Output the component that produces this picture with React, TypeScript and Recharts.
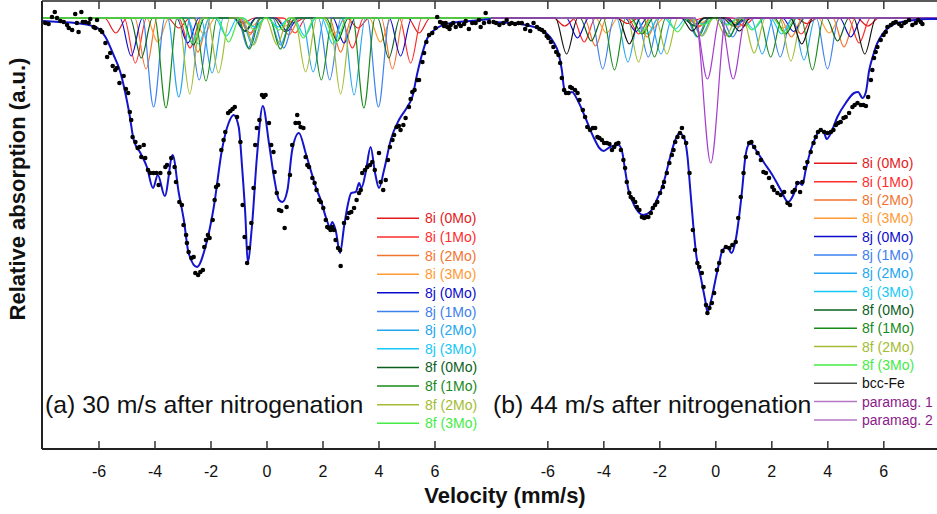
import { ComposedChart, Line, Scatter, XAxis, YAxis } from 'recharts';

const TICKS = [-6, -4, -2, 0, 2, 4, 6];

const SITE_NAMES = [
  '8i (0Mo)', '8i (1Mo)', '8i (2Mo)', '8i (3Mo)',
  '8j (0Mo)', '8j (1Mo)', '8j (2Mo)', '8j (3Mo)',
  '8f (0Mo)', '8f (1Mo)', '8f (2Mo)', '8f (3Mo)',
];
const EXTRA_NAMES = ['bcc-Fe', 'paramag. 1', 'paramag. 2'];

// line positions (mm/s) of each subspectrum, panel (a)
const L_POS = [
  [-5.4, -3.15, -0.85, 0.95, 3.25, 5.43],
  [-4.7, -2.75, -0.6, 1.0, 3.05, 5.13],
  [-4.32, -2.47, -0.62, 0.78, 2.63, 4.48],
  [-3.9, -2.25, -0.55, 0.65, 2.4, 4.05],
  [-4.85, -2.83, -0.8, 0.72, 2.75, 4.77],
  [-4.05, -2.42, -0.67, 0.6, 2.24, 3.98],
  [-3.15, -1.96, -0.52, 0.48, 1.65, 3.11],
  [-2.45, -1.45, -0.45, 0.4, 1.35, 2.35],
  [-4.49, -2.63, -0.77, 0.63, 2.51, 4.35],
  [-3.61, -2.18, -0.63, 0.48, 1.94, 3.46],
  [-2.76, -1.73, -0.48, 0.36, 1.38, 2.63],
  [-2.67, -1.37, -0.45, 0.42, 1.3, 2.45],
];
// line depths (a.u.), panel (a)
const L_DEPTH = [
  [1.5, 1.0, 0.5, 0.5, 1.0, 1.5],
  [4.5, 3.0, 1.5, 1.5, 3.0, 4.5],
  [5.1, 3.4, 1.7, 1.7, 3.4, 5.1],
  [2.4, 1.6, 0.8, 0.8, 1.6, 2.4],
  [3.8, 2.5, 1.3, 1.3, 2.5, 3.8],
  [8.9, 6.2, 3.0, 3.0, 6.2, 8.9],
  [7.9, 5.5, 2.7, 2.7, 5.4, 7.7],
  [2.6, 1.8, 0.9, 0.9, 1.8, 2.6],
  [4.0, 2.7, 1.35, 1.35, 2.3, 4.0],
  [9.0, 6.3, 3.1, 3.1, 6.2, 9.0],
  [7.6, 5.5, 2.7, 2.7, 5.4, 7.6],
  [2.5, 2.4, 1.2, 1.2, 2.0, 2.5],
];

// panel (b): 12 sites + bcc-Fe + paramag. 1 (doublet) + paramag. 2 (singlet)
const R_POS = [
  [-5.4, -3.15, -0.85, 0.95, 3.25, 5.43],
  [-4.7, -2.75, -0.6, 1.0, 3.05, 5.12],
  [-4.3, -2.45, -0.62, 0.8, 2.7, 4.58],
  [-3.9, -2.25, -0.55, 0.65, 2.4, 4.05],
  [-4.94, -2.85, -0.8, 0.72, 2.78, 4.82],
  [-4.04, -2.41, -0.67, 0.6, 2.3, 3.99],
  [-3.14, -1.96, -0.52, 0.48, 1.66, 3.15],
  [-2.45, -1.45, -0.45, 0.4, 1.35, 2.35],
  [-4.45, -2.63, -0.77, 0.63, 2.49, 4.35],
  [-3.62, -2.19, -0.63, 0.48, 1.96, 3.45],
  [-2.76, -1.75, -0.48, 0.36, 1.37, 2.68],
  [-2.67, -1.37, -0.45, 0.42, 1.3, 2.45],
  [-5.33, -3.09, -0.84, 0.84, 3.07, 5.32],
  [-0.3, 0.62],
  [-0.18],
];
const R_DEPTH = [
  [0.8, 0.55, 0.3, 0.3, 0.55, 0.8],
  [2.4, 1.6, 0.8, 0.8, 1.6, 2.5],
  [2.8, 1.9, 0.9, 0.9, 1.9, 2.9],
  [1.5, 1.0, 0.5, 0.5, 1.0, 1.5],
  [2.0, 1.35, 0.7, 0.7, 1.35, 1.9],
  [5.1, 3.9, 1.9, 1.9, 3.9, 5.1],
  [4.4, 3.6, 1.8, 1.8, 3.6, 4.2],
  [1.6, 1.1, 0.6, 0.6, 1.1, 1.6],
  [2.3, 1.6, 0.8, 0.8, 1.6, 2.3],
  [5.2, 3.9, 1.9, 1.9, 3.9, 5.2],
  [4.4, 3.6, 1.8, 1.8, 3.5, 4.3],
  [1.5, 1.4, 0.7, 0.7, 1.2, 1.5],
  [3.6, 2.6, 1.3, 1.3, 2.6, 3.6],
  [6.1, 6.1],
  [14.5],
];
// half width of the lines (mm/s)
const L_WIDTH = [0.4, 0.4, 0.4, 0.4, 0.4, 0.4, 0.4, 0.4, 0.4, 0.4, 0.4, 0.4];
const R_WIDTH = [0.4, 0.4, 0.4, 0.4, 0.4, 0.4, 0.4, 0.4, 0.4, 0.4, 0.4, 0.4, 0.4, 0.45, 0.55];

// total fit, panel (a)
const L_FIT = [
  [-8.0, 0.3], [-7.4, 0.4], [-6.85, 0.5], [-6.13, 0.9], [-5.77, 1.9], [-5.48, 3.7], [-5.24, 5.4],
  [-5.06, 7.5], [-4.92, 9.5], [-4.76, 12.2], [-4.52, 13.5], [-4.29, 14.9], [-4.07, 17.0],
  [-3.9, 15.7], [-3.65, 17.8], [-3.37, 13.7], [-3.15, 17.5], [-2.97, 20.2], [-2.8, 23.5],
  [-2.5, 24.9], [-2.2, 22.9], [-1.9, 18.9], [-1.61, 13.2], [-1.37, 10.5], [-1.19, 9.7],
  [-1.01, 10.9], [-0.89, 14.9], [-0.77, 19.9], [-0.69, 24.4], [-0.54, 20.9], [-0.36, 13.9],
  [-0.15, 8.8], [0.07, 12.5], [0.25, 15.9], [0.43, 18.2], [0.55, 18.4], [0.73, 17.2],
  [0.9, 13.2], [1.14, 11.5], [1.38, 13.5], [1.56, 15.2], [1.74, 16.9], [1.92, 18.2],
  [2.1, 19.9], [2.25, 20.9], [2.33, 20.4], [2.45, 21.2], [2.61, 23.5], [2.75, 20.9],
  [2.87, 18.9], [3.01, 17.5], [3.17, 17.4], [3.29, 16.5], [3.37, 17.0], [3.52, 15.5],
  [3.7, 12.9], [3.86, 15.5], [4.0, 17.0], [4.18, 15.2], [4.42, 12.2], [4.71, 10.2],
  [5.01, 8.9], [5.19, 7.9], [5.37, 5.5], [5.55, 3.5], [5.73, 2.0], [6.08, 1.0],
  [6.56, 0.5], [7.27, 0.3], [7.99, 0.1],
];

// measured points, panel (a)
const L_DOTS = [
  [-7.92, 0.5], [-7.8, 0.6], [-7.68, -0.1], [-7.58, -0.6], [-7.5, 0.0], [-7.38, 0.3], [-7.26, 0.4],
  [-7.14, 0.7], [-7.08, 1.0], [-6.96, 1.2], [-6.85, -0.4], [-6.79, 0.5], [-6.73, 1.4], [-6.63, -0.6],
  [-6.58, 0.4], [-6.49, 0.4], [-6.37, 0.5], [-6.31, 0.1], [-6.19, 0.9], [-6.13, 1.0], [-6.07, 0.2],
  [-5.95, 1.2], [-5.89, 1.4], [-5.77, 2.5], [-5.71, 3.9], [-5.6, 3.5], [-5.51, 4.8], [-5.42, 5.2],
  [-5.36, 5.0], [-5.27, 6.5], [-5.12, 5.8], [-5.04, 7.1], [-4.96, 7.5], [-4.9, 9.4], [-4.85, 10.2],
  [-4.8, 11.9], [-4.7, 12.4], [-4.62, 13.0], [-4.55, 12.9], [-4.49, 13.9], [-4.4, 12.7], [-4.35, 14.0],
  [-4.25, 15.2], [-4.17, 15.5], [-4.05, 15.5], [-3.95, 15.5], [-3.87, 16.7], [-3.81, 15.5],
  [-3.63, 14.9], [-3.57, 14.7], [-3.49, 15.5], [-3.42, 14.0], [-3.3, 14.9], [-3.25, 16.4],
  [-3.13, 18.4], [-3.04, 18.7], [-2.98, 20.7], [-2.89, 21.7], [-2.86, 22.5], [-2.8, 23.4],
  [-2.7, 24.0], [-2.62, 23.9], [-2.56, 25.5], [-2.46, 25.7], [-2.38, 25.4], [-2.29, 25.2],
  [-2.24, 22.9], [-2.18, 22.2], [-2.11, 21.7], [-2.05, 22.0], [-1.94, 20.2], [-1.87, 18.2],
  [-1.82, 16.9], [-1.75, 16.7], [-1.63, 13.2], [-1.55, 12.2], [-1.49, 11.4], [-1.39, 9.5],
  [-1.31, 9.3], [-1.23, 9.1], [-1.15, 8.9], [-1.07, 9.9], [-0.95, 12.4], [-0.87, 18.7],
  [-0.8, 21.9], [-0.71, 24.5], [-0.65, 23.0], [-0.56, 20.5], [-0.48, 17.0], [-0.42, 12.7],
  [-0.36, 11.0], [-0.27, 10.2], [-0.18, 7.7], [-0.12, 7.9], [-0.05, 7.7], [0.07, 10.5],
  [0.15, 12.7], [0.23, 13.4], [0.27, 15.4], [0.35, 17.5], [0.43, 19.2], [0.51, 19.3],
  [0.63, 21.0], [0.7, 18.9], [0.82, 15.7], [0.9, 12.7], [1.02, 10.5], [1.08, 9.7], [1.14, 10.5],
  [1.2, 10.9], [1.3, 11.0], [1.38, 13.9], [1.44, 14.7], [1.5, 14.9], [1.62, 16.0], [1.7, 16.5],
  [1.77, 17.2], [1.86, 18.2], [1.92, 18.4], [2.01, 19.0], [2.1, 20.2], [2.15, 20.9], [2.21, 21.0],
  [2.27, 21.2], [2.33, 20.9], [2.39, 21.2], [2.45, 22.2], [2.54, 23.0], [2.61, 23.2], [2.63, 24.8],
  [2.75, 20.5], [2.87, 20.0], [2.93, 19.5], [3.01, 19.4], [3.11, 19.0], [3.2, 18.2], [3.29, 17.5],
  [3.35, 17.2], [3.4, 15.5], [3.5, 15.2], [3.58, 14.9], [3.68, 14.7], [3.76, 14.4], [3.85, 15.2],
  [4.0, 13.5], [4.06, 16.4], [4.15, 17.2], [4.24, 16.2], [4.32, 14.2], [4.39, 12.9], [4.48, 12.2],
  [4.54, 11.7], [4.63, 10.9], [4.71, 10.8], [4.77, 11.2], [4.87, 10.7], [4.95, 10.0], [5.07, 8.9],
  [5.13, 8.1], [5.19, 7.4], [5.27, 7.2], [5.37, 6.2], [5.43, 6.2], [5.55, 4.4], [5.61, 3.5],
  [5.69, 2.4], [5.79, 1.7], [5.9, 1.5], [6.02, 1.0], [6.08, -0.1], [6.18, 0.4], [6.26, 0.5],
  [6.32, 0.8], [6.38, 0.5], [6.44, 0.9], [6.52, 1.1], [6.56, 0.7], [6.65, 0.5], [6.74, 0.9],
  [6.86, 0.6], [6.92, 0.8], [7.04, 0.6], [7.1, 0.3], [7.21, 1.1], [7.33, 0.5], [7.45, 0.5],
  [7.57, 0.2], [7.63, 0.9], [7.75, 0.5], [7.81, -0.5], [7.93, 0.4],
];

// total fit, panel (b)
const R_FIT = [
  [-8.0, 0.4], [-7.35, 0.5], [-6.63, 0.8], [-6.16, 1.3], [-5.8, 2.4], [-5.62, 3.5], [-5.5, 5.2],
  [-5.42, 7.0], [-5.3, 7.5], [-5.14, 7.4], [-4.94, 8.2], [-4.67, 9.9], [-4.37, 11.9], [-4.16, 13.0],
  [-4.01, 13.3], [-3.78, 12.9], [-3.48, 12.7], [-3.36, 13.2], [-3.24, 15.2], [-3.12, 17.2],
  [-3.0, 18.2], [-2.82, 19.2], [-2.59, 19.7], [-2.35, 19.4], [-2.11, 18.2], [-1.87, 16.5],
  [-1.63, 13.9], [-1.45, 12.2], [-1.3, 11.5], [-1.13, 12.0], [-1.01, 13.9], [-0.92, 16.9],
  [-0.8, 20.9], [-0.69, 23.9], [-0.54, 25.9], [-0.38, 28.2], [-0.3, 29.4], [-0.14, 27.9],
  [0.0, 26.0], [0.12, 24.5], [0.24, 23.2], [0.41, 22.9], [0.56, 23.5], [0.71, 22.2], [0.83, 19.9],
  [0.95, 16.9], [1.04, 14.2], [1.13, 12.9], [1.23, 12.5], [1.43, 13.2], [1.73, 14.5], [2.02, 15.7],
  [2.32, 17.2], [2.58, 18.4], [2.8, 17.5], [2.94, 16.4], [3.09, 16.7], [3.21, 15.2], [3.39, 13.2],
  [3.57, 11.9], [3.72, 11.2], [3.87, 11.5], [3.96, 12.1], [4.11, 11.5], [4.34, 9.9], [4.64, 8.5],
  [4.94, 7.5], [5.08, 7.4], [5.24, 8.0], [5.36, 7.4], [5.48, 5.2], [5.59, 4.0], [5.77, 2.5],
  [6.01, 1.4], [6.37, 0.6], [6.84, 0.3], [7.56, 0.1], [7.9, 0.1],
];

// measured points, panel (b)
const R_DOTS = [
  [-7.94, 0.4], [-7.85, 0.5], [-7.73, 0.7], [-7.59, 0.5], [-7.47, 0.2], [-7.37, 0.6], [-7.29, 0.5],
  [-7.17, 0.6], [-7.05, 0.5], [-6.93, 0.5], [-6.81, 1.1], [-6.73, 0.7], [-6.63, 1.3], [-6.51, 0.5],
  [-6.39, 0.9], [-6.3, 1.1], [-6.21, 1.2], [-6.13, 1.4], [-6.04, 1.8], [-5.98, 2.0], [-5.89, 2.4],
  [-5.8, 2.9], [-5.7, 3.4], [-5.62, 3.7], [-5.56, 4.5], [-5.5, 6.0], [-5.42, 7.2], [-5.35, 7.5],
  [-5.26, 7.5], [-5.2, 6.9], [-5.14, 7.0], [-5.03, 7.2], [-4.94, 7.5], [-4.87, 8.2], [-4.75, 9.2],
  [-4.67, 9.9], [-4.59, 10.9], [-4.49, 11.2], [-4.39, 11.0], [-4.31, 11.0], [-4.23, 11.9],
  [-4.16, 12.0], [-4.07, 12.2], [-3.99, 12.5], [-3.89, 12.5], [-3.8, 12.6], [-3.71, 13.2],
  [-3.63, 12.9], [-3.56, 12.6], [-3.48, 12.5], [-3.39, 13.2], [-3.3, 14.2], [-3.24, 15.0],
  [-3.18, 16.4], [-3.09, 17.5], [-3.04, 17.9], [-2.96, 18.1], [-2.88, 18.4], [-2.82, 18.9],
  [-2.73, 19.2], [-2.64, 19.9], [-2.56, 20.0], [-2.49, 19.9], [-2.41, 19.9], [-2.32, 19.5],
  [-2.25, 19.0], [-2.17, 18.7], [-2.09, 18.4], [-1.99, 17.5], [-1.89, 16.9], [-1.85, 16.4],
  [-1.75, 15.5], [-1.66, 14.5], [-1.57, 13.7], [-1.51, 13.2], [-1.45, 12.4], [-1.37, 11.9],
  [-1.28, 11.5], [-1.21, 11.0], [-1.16, 11.9], [-1.06, 12.5], [-0.94, 15.5], [-0.82, 21.2],
  [-0.74, 23.2], [-0.66, 24.5], [-0.59, 24.9], [-0.5, 25.5], [-0.44, 26.9], [-0.35, 28.7],
  [-0.3, 29.5], [-0.23, 29.0], [-0.14, 28.5], [-0.06, 27.5], [0.04, 25.2], [0.12, 24.5],
  [0.24, 23.3], [0.36, 22.9], [0.48, 23.0], [0.59, 22.7], [0.71, 22.4], [0.8, 20.0], [0.89, 17.9],
  [0.99, 15.5], [1.07, 13.9], [1.19, 12.5], [1.27, 12.4], [1.37, 12.9], [1.49, 13.5], [1.61, 14.2],
  [1.7, 15.4], [1.79, 15.5], [1.9, 16.0], [2.02, 16.9], [2.08, 17.2], [2.2, 17.5], [2.32, 17.7],
  [2.44, 17.4], [2.56, 18.5], [2.65, 18.7], [2.74, 17.4], [2.82, 17.2], [2.91, 16.5], [3.01, 17.4],
  [3.09, 16.4], [3.18, 15.0], [3.27, 14.4], [3.39, 13.4], [3.49, 12.5], [3.57, 11.9], [3.65, 11.4],
  [3.75, 11.2], [3.87, 11.4], [3.99, 11.5], [4.11, 11.4], [4.2, 11.2], [4.29, 10.7], [4.37, 10.5],
  [4.46, 10.4], [4.56, 10.0], [4.64, 9.9], [4.76, 9.5], [4.88, 8.9], [4.96, 8.7], [5.06, 8.5],
  [5.18, 8.7], [5.27, 8.7], [5.36, 8.8], [5.44, 7.9], [5.54, 6.2], [5.59, 5.2], [5.65, 4.0],
  [5.71, 3.4], [5.77, 2.9], [5.89, 2.2], [5.99, 1.7], [6.07, 1.4], [6.13, 0.9], [6.25, 0.7],
  [6.34, 0.5], [6.43, 0.4], [6.55, 0.6], [6.63, 0.8], [6.73, 0.5], [6.79, 0.4], [6.9, 0.2],
  [7.02, 0.7], [7.14, 0.5], [7.23, 0.2], [7.32, 0.4], [7.38, 0.6],
];

const SITE_COLORS = [
  '#e31a1c', '#ff2b2b', '#f2732e', '#ff9a33',
  '#0a0acc', '#3d80f0', '#22a6f0', '#14c8f8',
  '#0b5e1c', '#178a1a', '#a3bc32', '#45ec45',
];
const EXTRA_COLORS = ['#111111', '#a63ccc', '#a63ccc'];
const EXTRA_LEGEND_LINE = ['#444444', '#b477c4', '#b477c4'];
const EXTRA_LEGEND_TEXT = ['#111111', '#8b1a8b', '#8b1a8b'];

const FONT = '"Liberation Sans", Arial, Helvetica, sans-serif';
const Y_DOMAIN = [-1.7, 43.1];

type Pt = { v: number; a: number };

const toPts = (rows: number[][]): Pt[] => rows.map(([v, a]) => ({ v, a }));

// baseline between the lines, minimum at each line position
function subspectrum(pos: number[], dep: number[], w: number, lo: number, hi: number): Pt[] {
  const pts: Pt[] = [{ v: lo, a: 0 }];
  pos.forEach((c, i) => {
    const prev = pos[i - 1];
    const next = pos[i + 1];
    if (prev === undefined || c - w > prev + w) pts.push({ v: c - w, a: 0 });
    pts.push({ v: c, a: dep[i] });
    if (next === undefined || next - w >= c + w) pts.push({ v: c + w, a: 0 });
  });
  pts.push({ v: hi, a: 0 });
  return pts;
}

const BottomTick = (props: any) => {
  const { x, y, payload } = props;
  return (
    <g>
      <line x1={x} x2={x} y1={y} y2={y - 8} stroke="#333" strokeWidth={1.5} />
      <text x={x} y={y + 28} textAnchor="middle" fontSize={16} fill="#111" fontFamily={FONT}>
        {payload.value}
      </text>
    </g>
  );
};

const TopTick = (props: any) => {
  const { x, y } = props;
  return <line x1={x} x2={x} y1={y} y2={y + 8} stroke="#333" strokeWidth={1.5} />;
};

const Dot = (props: any) => <circle cx={props.cx} cy={props.cy} r={2.3} fill="#000" />;

type PanelProps = {
  left: number;
  width: number;
  yWidth: number;
  domain: number[];
  fit: Pt[];
  dots: Pt[];
  subs: { pts: Pt[]; color: string }[];
};

function Panel({ left, width, yWidth, domain, fit, dots, subs }: PanelProps) {
  return (
    <div style={{ position: 'absolute', left, top: 0 }}>
      <ComposedChart width={width} height={514} margin={{ top: 0, right: 0, bottom: 0, left: 0 }}>
        <XAxis
          xAxisId="b"
          dataKey="v"
          type="number"
          domain={domain}
          allowDataOverflow
          ticks={TICKS}
          interval={0}
          height={65}
          tickSize={0}
          tickMargin={0}
          tickLine={false}
          tick={<BottomTick />}
          axisLine={{ stroke: '#222', strokeWidth: 2 }}
        />
        <XAxis
          xAxisId="t"
          orientation="top"
          dataKey="v"
          type="number"
          domain={domain}
          allowDataOverflow
          ticks={TICKS}
          interval={0}
          height={1}
          tickSize={0}
          tickMargin={0}
          tickLine={false}
          tick={<TopTick />}
          axisLine={{ stroke: '#222', strokeWidth: 1.5 }}
        />
        <YAxis
          dataKey="a"
          type="number"
          domain={Y_DOMAIN}
          reversed
          allowDataOverflow
          width={yWidth}
          tick={false}
          tickLine={false}
          axisLine={{ stroke: '#222', strokeWidth: 2 }}
        />
        {subs.map((s, i) => (
          <Line
            key={i}
            xAxisId="b"
            data={s.pts}
            dataKey="a"
            type="monotone"
            stroke={s.color}
            strokeWidth={1.2}
            dot={false}
            legendType="none"
            isAnimationActive={false}
          />
        ))}
        <Line
          xAxisId="b"
          data={fit}
          dataKey="a"
          type="monotone"
          stroke="#1414cc"
          strokeWidth={2}
          dot={false}
          legendType="none"
          isAnimationActive={false}
        />
        <Scatter xAxisId="b" data={dots} dataKey="a" shape={<Dot />} legendType="none" isAnimationActive={false} />
      </ComposedChart>
    </div>
  );
}

const L_DOMAIN = [-8.036, 8.0];
const R_DOMAIN = [-8.03, 7.9];

export default function App() {
  const leftSubs = L_POS.map((pos, i) => ({
    pts: subspectrum(pos, L_DEPTH[i], L_WIDTH[i], L_DOMAIN[0], L_DOMAIN[1]),
    color: SITE_COLORS[i],
  }));
  const rightColors = [...SITE_COLORS, ...EXTRA_COLORS];
  const rightSubs = R_POS.map((pos, i) => ({
    pts: subspectrum(pos, R_DEPTH[i], R_WIDTH[i], R_DOMAIN[0], R_DOMAIN[1]),
    color: rightColors[i],
  }));

  const leftLegend = SITE_NAMES.map((n, i) => ({ name: n, line: SITE_COLORS[i], text: SITE_COLORS[i] }));
  const rightLegend = [
    ...leftLegend,
    ...EXTRA_NAMES.map((n, i) => ({ name: n, line: EXTRA_LEGEND_LINE[i], text: EXTRA_LEGEND_TEXT[i] })),
  ];

  return (
    <div style={{ position: 'absolute', left: 0, top: 0, width: 937, height: 514, background: '#fff', fontFamily: FONT }}>
      <Panel left={0} width={491} yWidth={42} domain={L_DOMAIN} fit={toPts(L_FIT)} dots={toPts(L_DOTS)} subs={leftSubs} />
      <Panel left={491} width={446} yWidth={0} domain={R_DOMAIN} fit={toPts(R_FIT)} dots={toPts(R_DOTS)} subs={rightSubs} />
      <svg width={937} height={514} style={{ position: 'absolute', left: 0, top: 0, pointerEvents: 'none' }}>
        <text
          transform="translate(25,189) rotate(-90)"
          textAnchor="middle"
          fontSize={22}
          fontWeight="bold"
          fill="#111"
          fontFamily={FONT}
        >
          Relative absorption (a.u.)
        </text>
        <text x={505} y={503} textAnchor="middle" fontSize={22} fontWeight="bold" fill="#111" fontFamily={FONT}>
          Velocity (mm/s)
        </text>
        <text x={45} y={413} fontSize={24.8} fill="#111" fontFamily={FONT}>
          (a) 30 m/s after nitrogenation
        </text>
        <text x={493} y={413} fontSize={24.8} fill="#111" fontFamily={FONT}>
          (b) 44 m/s after nitrogenation
        </text>
        {leftLegend.map((e, i) => {
          const cy = 218.3 + 18.64 * i;
          return (
            <g key={'l' + i}>
              <line x1={377} x2={419} y1={cy} y2={cy} stroke={e.line} strokeWidth={1.5} />
              <text x={425} y={cy + 5} fontSize={14} fill={e.text} fontFamily={FONT}>
                {e.name}
              </text>
            </g>
          );
        })}
        {rightLegend.map((e, i) => {
          const cy = 163.3 + 18.33 * i;
          return (
            <g key={'r' + i}>
              <line x1={814} x2={857} y1={cy} y2={cy} stroke={e.line} strokeWidth={1.5} />
              <text x={862} y={cy + 5} fontSize={14} fill={e.text} fontFamily={FONT}>
                {e.name}
              </text>
            </g>
          );
        })}
      </svg>
    </div>
  );
}
